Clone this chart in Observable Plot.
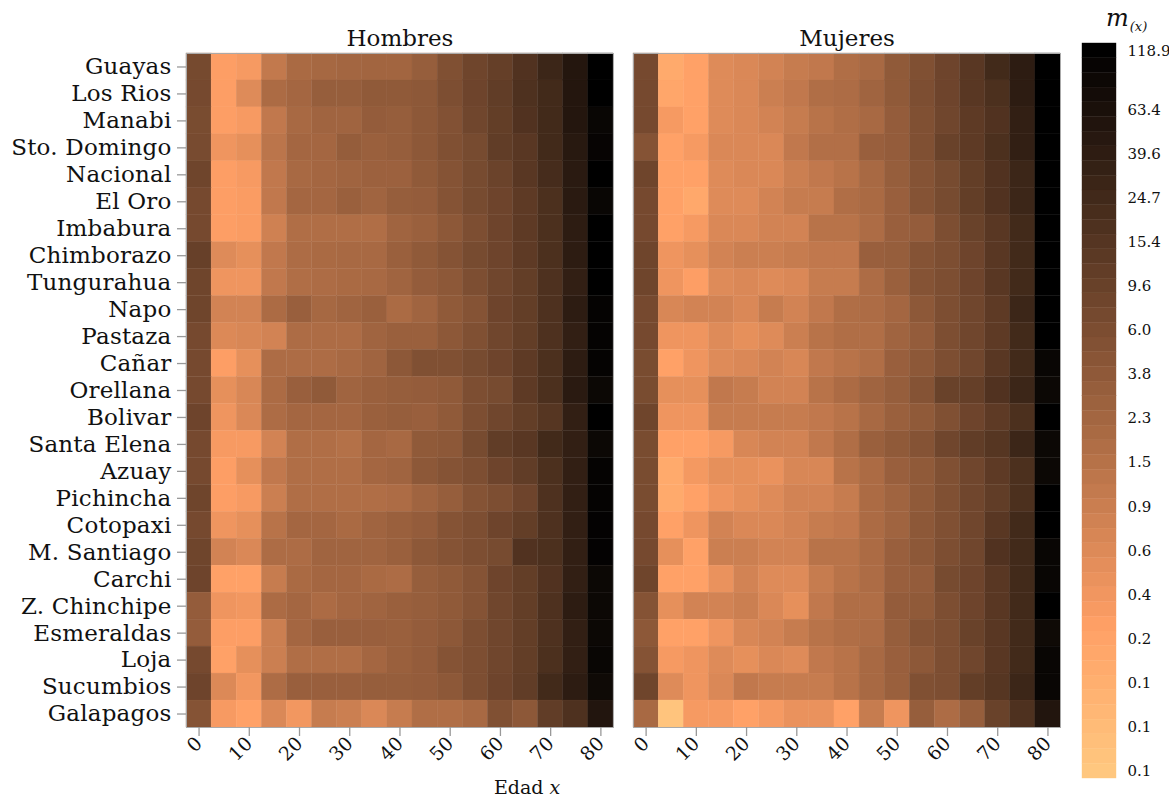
<!DOCTYPE html>
<html><head><meta charset="utf-8">
<script src="https://cdn.jsdelivr.net/npm/d3@7"></script>
<script src="https://cdn.jsdelivr.net/npm/@observablehq/plot@0.6"></script>
<style>
body{margin:0;background:#fff;}
#wrap{position:relative;width:1169px;height:800px;font-family:"DejaVu Serif",serif;color:#111;overflow:hidden;}
#wrap svg{position:absolute;top:0;}
.ylab text{letter-spacing:0.2px;}
</style></head><body><div id="wrap"></div>
<script>
const regions = ["Guayas","Los Rios","Manabi","Sto. Domingo","Nacional","El Oro","Imbabura","Chimborazo","Tungurahua","Napo","Pastaza","Cañar","Orellana","Bolivar","Santa Elena","Azuay","Pichincha","Cotopaxi","M. Santiago","Carchi","Z. Chinchipe","Esmeraldas","Loja","Sucumbios","Galapagos"];
const ages = [0,5,10,15,20,25,30,35,40,45,50,55,60,65,70,75,80];
const ageTicks = [0,10,20,30,40,50,60,70,80];
const sexes = ["Hombres","Mujeres"];

// m(x) per region (rows) and age group (columns), Hombres
const hombres = [
[6.9,0.27,0.32,1.1,2.0,2.2,2.35,2.4,2.4,3.2,5.4,8.3,10.5,17,28,50,118],
[7,0.27,0.56,1.9,2.3,3.2,3.2,3.7,3.7,4.0,5.8,8.5,11.5,18,24,50,118],
[6.4,0.27,0.31,1.15,2.1,2.5,2.5,3.4,3.2,4.0,5.2,8,11,17,24,50,95],
[6.6,0.38,0.47,1.3,2.3,2.3,3.3,2.9,3.2,4.0,5.4,6.7,11.5,14,24,45,100],
[8.3,0.27,0.31,1.15,2.1,2.3,2.5,2.8,2.8,3.7,4.8,6.7,9,14,22,43,118],
[7,0.27,0.29,1.15,2.3,2.3,2.9,2.5,3.2,3.4,4.8,6.7,8.5,12.5,19,43,95],
[7,0.27,0.29,0.82,1.7,1.7,1.7,1.7,2.5,2.9,4.0,5.8,8.5,12.5,19,40,118],
[10,0.56,0.47,1.15,1.85,2.0,2.1,2.1,2.9,3.7,4.8,6.7,8.5,12.5,19,40,118],
[8.3,0.38,0.38,1.15,1.7,1.85,2.0,2.1,2.5,3.4,4.0,5.8,8,11,18,36,118],
[8.3,0.75,0.75,1.9,3.0,2.2,2.5,2.9,1.95,2.5,3.7,4.8,8.5,11,18,40,105],
[7,0.6,0.65,0.75,1.85,1.85,1.85,2.5,2.9,2.9,4.0,5.4,8,11,18,36,105],
[7,0.27,0.47,1.85,1.85,1.85,2.1,2.5,4.0,5.4,5.4,6.7,8.5,12.5,19,40,105],
[7,0.47,0.65,1.9,3.0,3.7,2.5,2.9,3.2,3.4,3.7,5.8,6.7,12.5,19,43,88],
[8.5,0.38,0.62,1.85,2.3,2.3,2.3,2.9,3.2,3.0,3.7,5.8,8,11,15,36,118],
[7,0.31,0.31,0.75,1.7,1.7,1.55,2.3,2.1,3.7,4.0,6.7,11.5,14,24,36,88],
[7,0.27,0.47,1.15,1.7,1.7,1.7,2.3,2.5,4.0,4.8,5.8,8.5,11.5,19,36,105],
[8.3,0.27,0.31,0.9,1.7,1.7,1.7,1.7,1.85,2.5,3.2,4.8,5.8,8.5,18,36,105],
[7,0.38,0.47,1.4,2.3,2.3,2.0,2.5,2.9,3.4,4.8,5.8,8.5,11,18,36,108],
[8.3,0.75,0.62,1.85,1.85,2.5,2.5,2.5,2.9,4.0,4.8,5.8,6.7,17,19,36,108],
[8.5,0.24,0.24,1.0,2.0,2.3,2.3,2.0,1.85,3.2,3.7,4.8,8.5,11,17,36,88],
[3.4,0.38,0.35,1.9,2.3,1.9,2.3,2.5,2.9,3.2,3.7,4.8,8,11,18,40,88],
[3.4,0.27,0.27,0.9,2.3,3.0,3.0,3.0,2.9,3.4,4.0,5.8,8,11,18,36,88],
[7,0.24,0.47,0.9,1.7,1.7,1.7,2.3,2.9,3.4,4.8,5.8,8,11,19,36,95],
[8.5,0.6,0.35,1.85,3.0,3.0,3.0,3.2,3.2,3.4,4.0,5.8,8.5,11.5,24,40,82],
[4.8,0.31,0.24,0.62,0.35,1.0,0.9,0.62,1.0,1.7,1.7,2.1,5.4,4.0,11.5,18,52]
];

// m(x) per region (rows) and age group (columns), Mujeres
const mujeres = [
[7,0.17,0.24,0.56,0.63,0.75,1.0,1.15,1.7,2.1,3.7,5.4,8.5,14,24,40,118],
[7,0.2,0.24,0.56,0.63,0.9,1.15,1.7,1.85,2.5,3.7,5.8,8.5,14,19,40,118],
[7,0.32,0.24,0.56,0.63,0.75,1.0,1.4,1.7,2.1,3.4,5.4,8,12.5,17,36,118],
[4.8,0.24,0.32,0.62,0.62,0.62,1.15,1.65,1.65,3.0,3.4,5.4,9.5,12.5,19,36,118],
[8.3,0.24,0.24,0.56,0.63,0.63,0.9,1.15,1.4,2.1,3.2,4.8,6.7,11,17,28,118],
[7,0.24,0.18,0.56,0.56,0.75,1.0,1.0,1.7,2.0,3.0,4.8,6.7,11,17,28,118],
[7,0.24,0.32,0.62,0.62,0.75,0.75,1.4,1.4,1.85,3.0,3.4,5.8,9.5,14,24,118],
[8.3,0.38,0.47,0.75,0.9,0.9,1.0,1.15,1.15,3.0,3.2,4.8,5.8,8.5,14,24,118],
[8.3,0.38,0.27,0.56,0.63,0.56,0.63,1.0,1.0,1.85,2.9,4.8,5.8,8.5,14,24,118],
[7,0.65,0.75,0.75,0.63,1.0,0.75,1.15,1.7,1.85,2.3,4.0,5.8,8,12.5,28,118],
[7,0.38,0.38,0.56,0.47,0.56,0.9,1.4,1.7,1.7,2.5,3.4,5.8,8,12.5,24,118],
[6.4,0.24,0.38,0.56,0.62,0.75,0.65,1.15,1.4,1.7,3.0,4.0,5.8,8,14,24,95],
[6.4,0.47,0.47,1.15,1.0,0.75,0.75,1.4,1.9,2.5,3.2,4.8,9.5,10.5,17,28,88],
[8.3,0.38,0.38,1.0,1.0,1.0,1.0,1.15,1.4,2.1,2.9,3.7,5.4,8.5,12.5,19,118],
[6.4,0.24,0.24,0.32,0.65,0.75,0.75,1.15,1.7,2.9,3.7,4.8,8,11.5,15,28,88],
[6.4,0.17,0.33,0.47,0.47,0.42,0.65,0.65,1.4,1.9,3.0,3.7,5.4,8,12.5,19,88],
[6.4,0.17,0.24,0.38,0.47,0.56,0.75,0.75,1.0,1.9,2.5,3.7,5.4,8,11.5,19,118],
[7,0.24,0.38,0.75,0.63,0.63,0.75,1.0,1.15,1.9,2.5,4.0,5.4,8,14,24,118],
[7,0.47,0.24,0.9,0.9,0.75,0.75,1.4,1.4,1.9,3.0,4.0,5.8,8,17,24,95],
[8.3,0.24,0.24,0.42,0.75,0.56,0.56,1.0,1.4,1.85,3.0,3.4,6.7,8.5,14,24,95],
[4.8,0.47,0.75,0.75,0.9,0.62,0.47,1.15,1.7,1.7,3.4,3.7,5.8,8.5,14,24,118],
[4.0,0.24,0.24,0.38,0.65,0.75,1.0,1.4,1.7,1.85,3.2,4.8,5.8,9.5,14,24,82],
[4.8,0.32,0.38,0.56,0.47,0.62,0.56,1.15,1.4,2.1,3.0,4.0,5.8,8,14,24,95],
[8.3,0.56,0.38,0.62,1.15,1.0,1.0,1.0,1.4,2.1,2.9,5.4,5.8,11,15,28,95],
[2.1,0.062,0.32,0.32,0.24,0.32,0.42,0.42,0.24,1.0,0.38,3.2,1.85,3.2,9.5,18,52]
];

const legendTickValues = [118.9,63.4,39.6,24.77,15.48,9.67,6.05,3.78,2.36,1.475,0.922,0.576,0.36,0.225,0.141,0.088,0.055];
const legendTickLabels = ["118.9","63.4","39.6","24.7","15.4","9.6","6.0","3.8","2.3","1.5","0.9","0.6","0.4","0.2","0.1","0.1","0.1"];
const colorMin = 0.055, colorMax = 118.9, legendSteps = 50;

function copper(t) {
  const x = Math.max(0, Math.min(1, 1 - t));
  return d3.rgb(255 * Math.min(1, 1.25 * x), 255 * 0.7812 * x, 255 * 0.4975 * x).formatHex();
}
const colorOpts = {type: "log", domain: [colorMin, colorMax], interpolate: copper, clamp: true};

const rows = [];
[hombres, mujeres].forEach((mat, s) => mat.forEach((vals, r) => vals.forEach((v, a) =>
  rows.push({sexo: sexes[s], region: regions[r], age: ages[a], m: v}))));

const wrap = document.getElementById("wrap");

const main = Plot.plot({
  width: 1070, height: 800,
  marginLeft: 186, marginRight: 10, marginTop: 53, marginBottom: 73,
  style: {fontFamily: "DejaVu Serif", background: "transparent", color: "#111"},
  fx: {domain: sexes, padding: 0.045, round: false, label: null},
  x: {type: "band", domain: ages, padding: 0, round: false},
  y: {domain: regions, padding: 0, round: false},
  color: colorOpts,
  marks: [
    Plot.cell(rows, {fx: "sexo", x: "age", y: "region", fill: "m", stroke: "m", strokeWidth: 0.35, inset: 0}),
    Plot.frame({stroke: "#aaa", strokeWidth: 1}),
    Plot.axisFx({anchor: "top", tickSize: 0, tickPadding: 8, fontSize: 23, label: null, fill: "#111"}),
    Plot.axisY({anchor: "left", tickSize: 9, tickPadding: 6, fontSize: 23, label: null, stroke: "#999", strokeWidth: 1.3, fill: "#111", className: "ylab"}),
    Plot.axisX({anchor: "bottom", ticks: ageTicks, tickSize: 9, tickPadding: 4, tickRotate: -45, fontSize: 19, label: null, stroke: "#999", strokeWidth: 1.3, fill: "#111"})
  ]
});
main.style.left = "0px";
wrap.appendChild(main);

// vertical colour bar
const stepRatio = Math.pow(colorMax / colorMin, 1 / (legendSteps - 1));
const legendBands = d3.range(legendSteps).map(i => {
  const c = colorMax / Math.pow(stepRatio, i);
  return {c, y1: c / Math.sqrt(stepRatio), y2: c * Math.sqrt(stepRatio)};
});
const legend = Plot.plot({
  width: 107, height: 800,
  marginLeft: 20, marginRight: 53, marginTop: 43, marginBottom: 22,
  style: {fontFamily: "DejaVu Serif", background: "transparent", color: "#111"},
  x: {domain: [0, 1], axis: null},
  y: {type: "log", domain: [colorMin / Math.sqrt(stepRatio), colorMax * Math.sqrt(stepRatio)], axis: null},
  color: colorOpts,
  marks: [
    Plot.rect(legendBands, {x1: 0, x2: 1, y1: "y1", y2: "y2", fill: "c", stroke: "c", strokeWidth: 0.4}),
    Plot.text(legendTickLabels, {x: 1, y: (d, i) => legendTickValues[i], text: d => d, textAnchor: "start", dx: 11, fontSize: 15, fill: "#111"})
  ]
});
legend.style.left = "1062px";
wrap.appendChild(legend);

const title = document.createElement("div");
title.style.cssText = "position:absolute;left:1106px;top:4px;font-size:24px;font-style:italic;line-height:28px;white-space:nowrap;";
title.innerHTML = 'm<span style="font-size:13px;position:relative;top:5px;margin-left:1px">(x)</span>';
wrap.appendChild(title);

const xlabel = document.createElement("div");
xlabel.style.cssText = "position:absolute;left:494px;top:776px;font-size:19px;line-height:22px;white-space:nowrap;";
xlabel.innerHTML = 'Edad <i>x</i>';
wrap.appendChild(xlabel);
</script></body></html>
